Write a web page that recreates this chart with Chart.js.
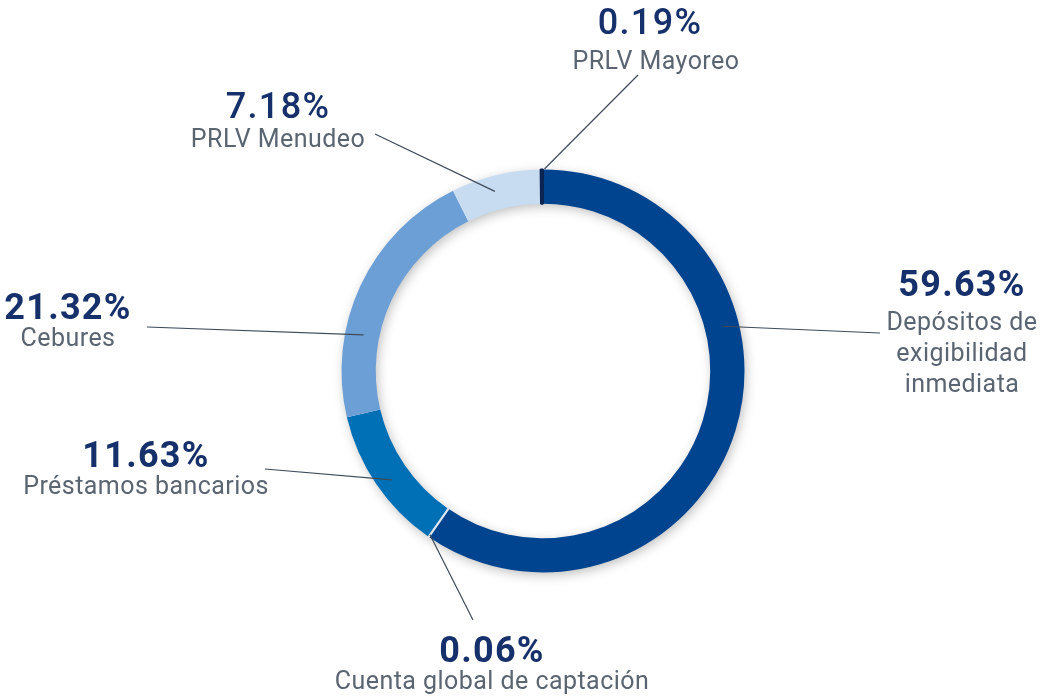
<!DOCTYPE html>
<html>
<head>
<meta charset="utf-8">
<script src="https://cdn.jsdelivr.net/npm/chart.js@4"></script>
<style>
    body { margin: 0; background: #ffffff; }
    .chart-box { width: 1044px; height: 696px; position: relative; }
</style>
</head>
<body>
<div class="chart-box">
    <canvas id="captacionChart"></canvas>
</div>
<script>
// chart data
const categories = ['Depósitos de exigibilidad inmediata', 'Cuenta global de captación', 'Préstamos bancarios', 'Cebures', 'PRLV Menudeo', 'PRLV Mayoreo'];
const shares = [59.63, 0.06, 11.63, 21.32, 7.18, 0.19];
const percentLabels = ['59.63%', '0.06%', '11.63%', '21.32%', '7.18%', '0.19%'];
const nameLines = [['Depósitos de', 'exigibilidad', 'inmediata'], ['Cuenta global de captación'], ['Préstamos bancarios'], ['Cebures'], ['PRLV Menudeo'], ['PRLV Mayoreo']];
const colors = ['#00448f', '#dde6ef', '#0070b6', '#6c9fd5', '#c7dcf1', '#0c2450'];

// label layout: text centre, gap to name, leader end near text, anchor on the ring (angle from top, radius)
const labelLayout = [
    { x: 962, y: 287, gap: 37, bold: true, lineStart: [880, 333], angle: 76, r: 185 },
    { x: 492, y: 653, gap: 30, bold: true, lineStart: [473, 620], angle: 214.6, r: 199 },
    { x: 146, y: 458, gap: 30, bold: true, lineStart: [265, 469], angle: 234.2, r: 186 },
    { x: 68, y: 310, gap: 30, bold: true, lineStart: [147, 327], angle: 281.4, r: 183 },
    { x: 278, y: 109, gap: 32, bold: false, lineStart: [375, 134], angle: 345, r: 186 },
    { x: 650, y: 25, gap: 38, bold: false, lineStart: [638, 75], angle: 0.4, r: 202 }
];

const ringShadow = {
    id: 'ringShadow',
    beforeDatasetsDraw(chart) {
        const arc = chart.getDatasetMeta(0).data[0];
        if (!arc) return;
        const { x, y, innerRadius, outerRadius } = arc.getProps(['x', 'y', 'innerRadius', 'outerRadius'], true);
        const ctx = chart.ctx;
        ctx.save();
        ctx.shadowColor = 'rgba(0,0,0,0.28)';
        ctx.shadowBlur = 12;
        ctx.shadowOffsetX = 2;
        ctx.shadowOffsetY = 3;
        ctx.fillStyle = '#ffffff';
        ctx.beginPath();
        ctx.arc(x, y, outerRadius - 1, 0, Math.PI * 2);
        ctx.arc(x, y, innerRadius + 1, 0, Math.PI * 2, true);
        ctx.fill();
        ctx.restore();
    }
};

const leaderLabels = {
    id: 'leaderLabels',
    afterDraw(chart) {
        const arc = chart.getDatasetMeta(0).data[0];
        if (!arc) return;
        const cx = arc.x, cy = arc.y;
        const ctx = chart.ctx;
        ctx.save();

        // leader lines
        ctx.strokeStyle = '#3f4a5a';
        ctx.lineWidth = 1.2;
        labelLayout.forEach(l => {
            const a = l.angle * Math.PI / 180;
            const ex = cx + l.r * Math.sin(a);
            const ey = cy - l.r * Math.cos(a);
            ctx.beginPath();
            ctx.moveTo(l.lineStart[0], l.lineStart[1]);
            ctx.lineTo(ex, ey);
            ctx.stroke();
        });

        // texts
        ctx.textAlign = 'center';
        ctx.textBaseline = 'middle';
        labelLayout.forEach((l, i) => {
            ctx.fillStyle = '#15306a';
            ctx.letterSpacing = '1.3px';
            ctx.font = (l.bold ? '700 ' : '500 ') + '36px Roboto, "Noto Sans", sans-serif';
            ctx.fillText(percentLabels[i], l.x, l.y);
            ctx.fillStyle = '#5b6572';
            ctx.letterSpacing = '0.45px';
            ctx.font = '400 25px Roboto, "Noto Sans", sans-serif';
            nameLines[i].forEach((line, k) => {
                ctx.fillText(line, l.x + (i === 5 ? 6 : 0), l.y + l.gap + k * 31);
            });
        });
        ctx.restore();
    }
};

const ctx = document.querySelector('#captacionChart');
new Chart(ctx, {
    type: 'doughnut',
    data: {
        labels: categories,
        datasets: [{
            data: shares,
            backgroundColor: colors,
            borderColor: colors,
            borderWidth: [0, 3, 0, 0, 0, 2]
        }]
    },
    options: {
        responsive: true,
        maintainAspectRatio: false,
        animation: false,
        cutout: '83%',
        layout: {
            padding: { top: 168, bottom: 122, left: 340, right: 298 }
        },
        plugins: {
            legend: { display: false },
            tooltip: { enabled: false }
        }
    },
    plugins: [ringShadow, leaderLabels]
});
</script>
</body>
</html>
